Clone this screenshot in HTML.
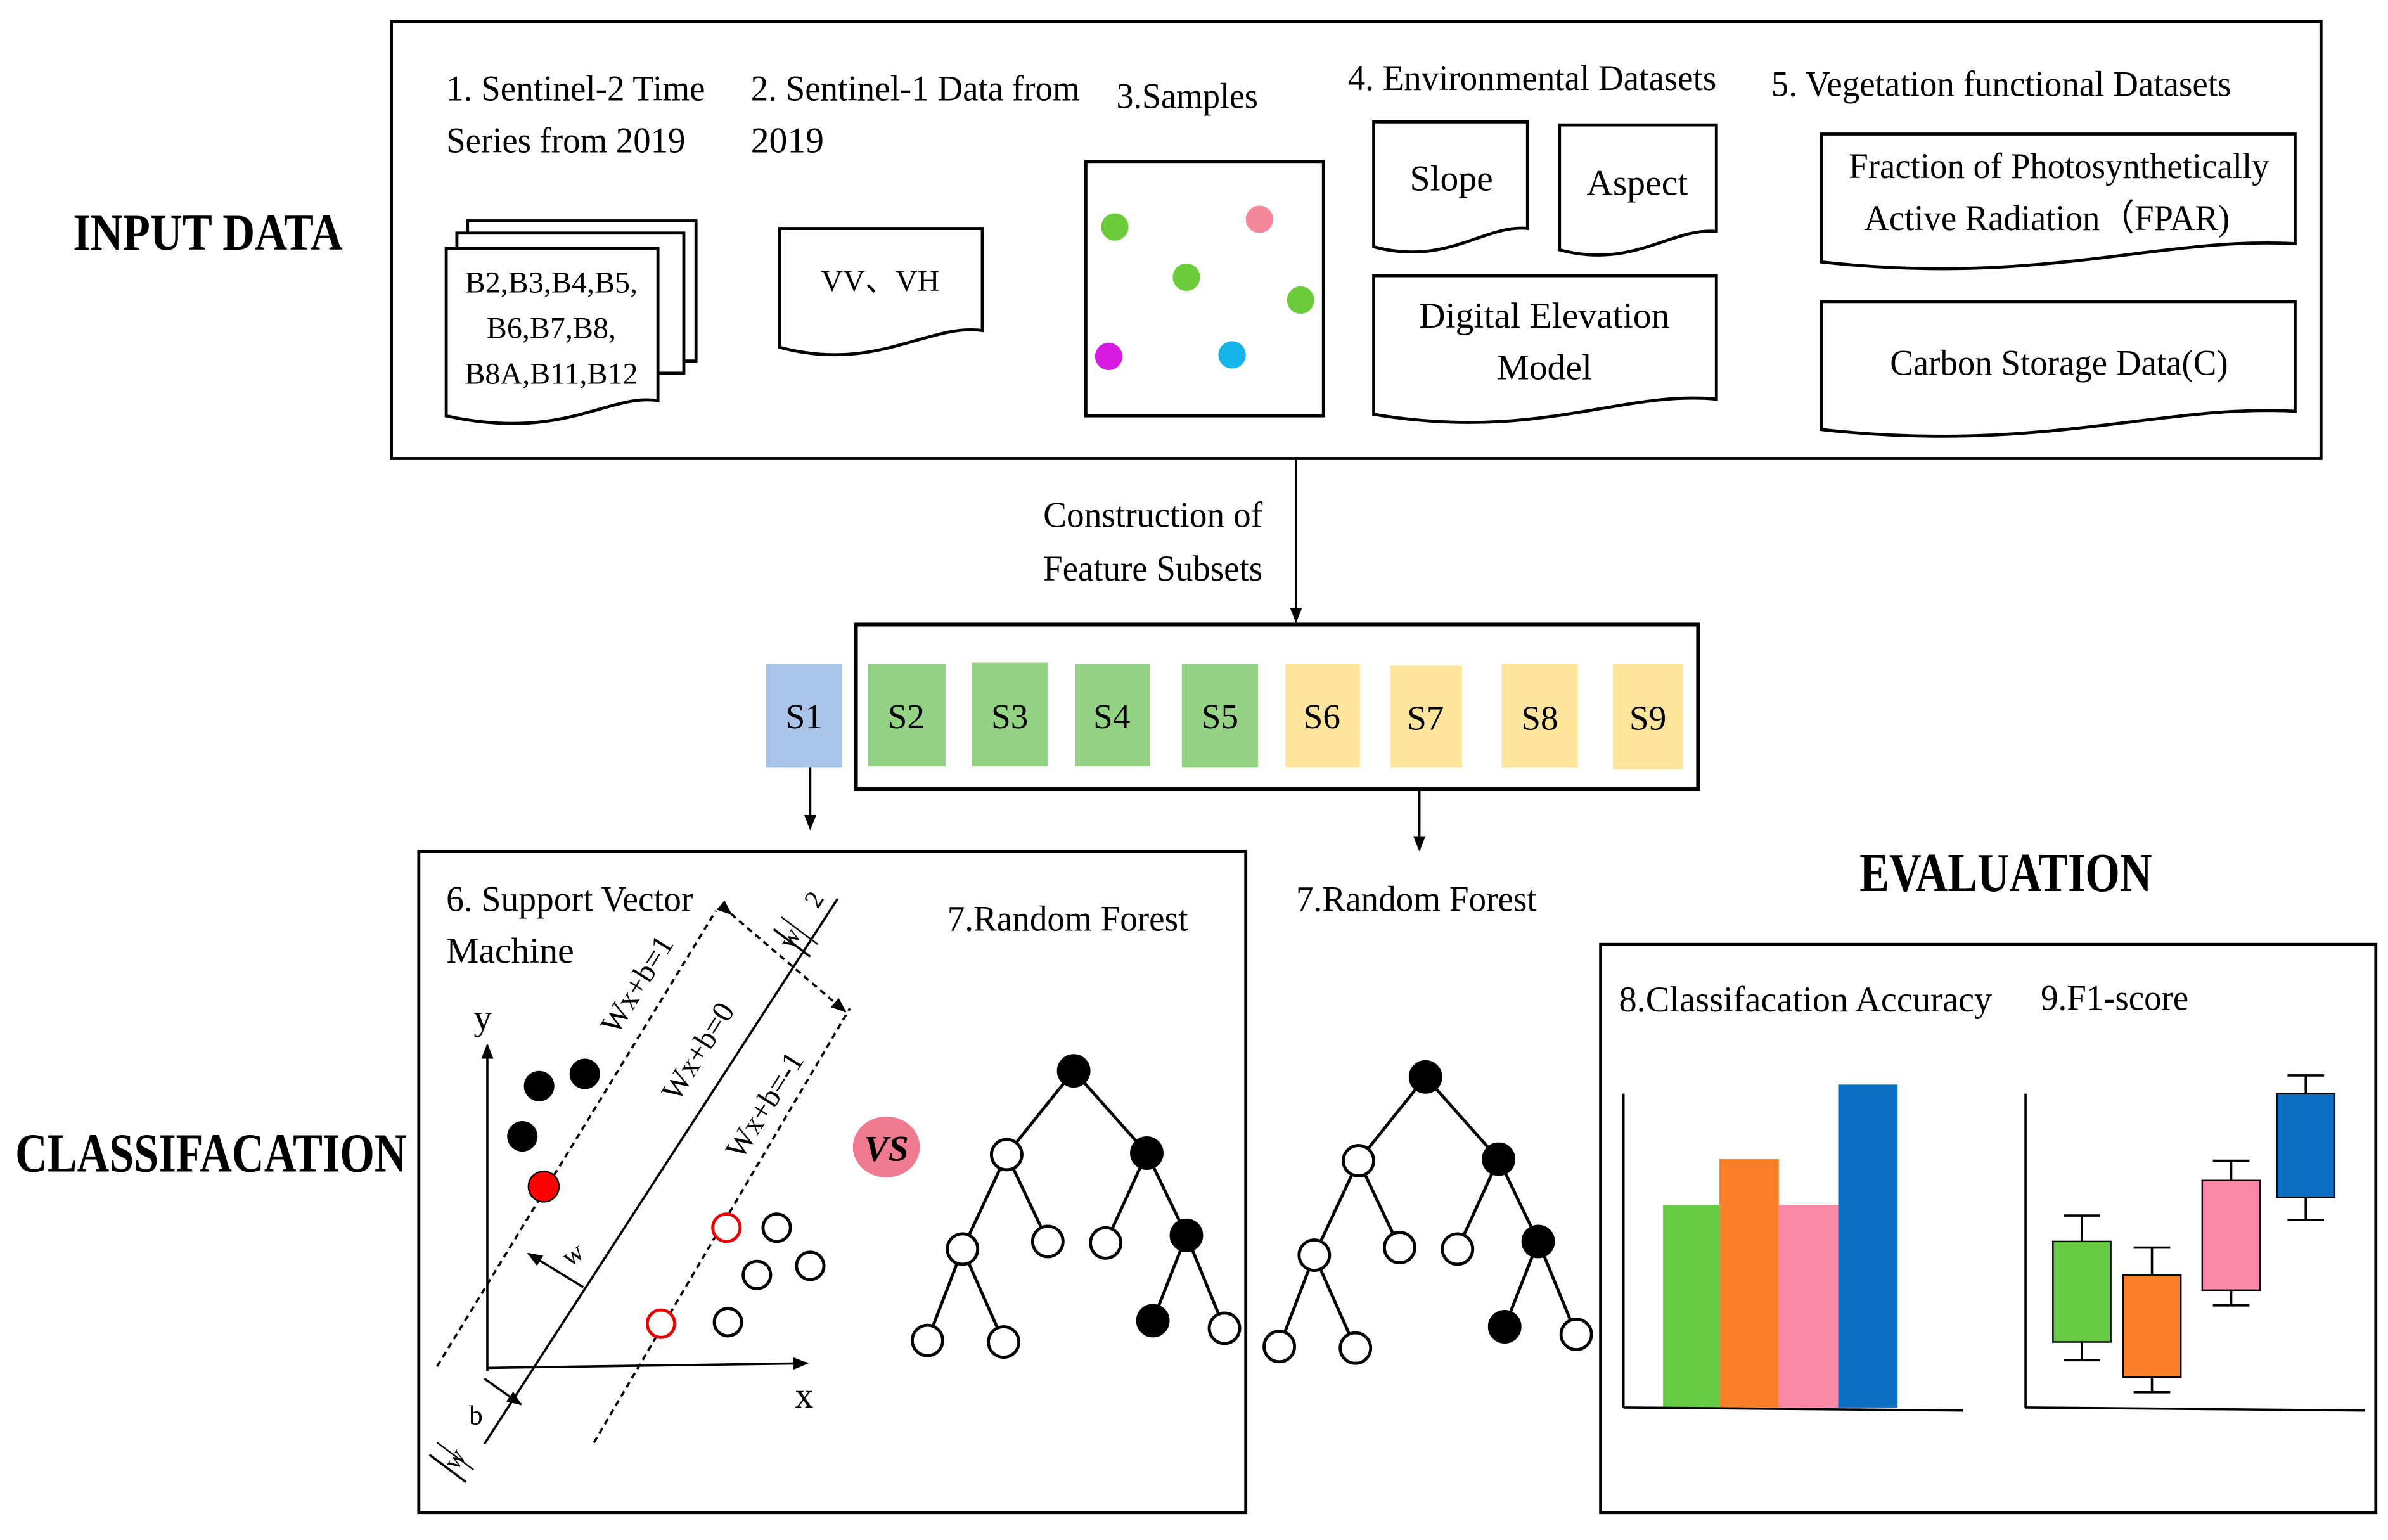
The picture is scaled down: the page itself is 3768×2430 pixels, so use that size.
<!DOCTYPE html>
<html><head><meta charset="utf-8"><style>
html,body{margin:0;padding:0;background:#fff;}
svg{display:block;}
text{font-family:"Liberation Serif",serif;fill:#000;}
</style></head><body>
<svg width="3768" height="2430" viewBox="0 0 1568 1011" preserveAspectRatio="none" xmlns="http://www.w3.org/2000/svg">
<defs>
<marker id="ah" markerWidth="10" markerHeight="10" refX="9" refY="5" orient="auto" markerUnits="userSpaceOnUse"><path d="M0,1 L10,5 L0,9 Z" fill="#000"/></marker>
</defs>
<rect width="1568" height="1011" fill="#fff"/>
<!-- top box -->
<rect x="257" y="14" width="1267" height="287" fill="none" stroke="#000" stroke-width="2"/>
<text x="48" y="164" font-size="34" font-weight="bold" textLength="177" lengthAdjust="spacingAndGlyphs">INPUT DATA</text>

<text x="293" y="66" font-size="24" textLength="170" lengthAdjust="spacingAndGlyphs">1. Sentinel-2 Time</text>
<text x="293" y="100" font-size="24" textLength="157" lengthAdjust="spacingAndGlyphs">Series from 2019</text>
<g fill="#fff" stroke="#000" stroke-width="2">
<rect x="307" y="145" width="150" height="92"/>
<rect x="300" y="153" width="149" height="92"/>
<path d="M293 163 H432 V263 C400 258 370 290 293 273 Z"/>
</g>
<g font-size="20" text-anchor="middle">
<text x="362" y="192">B2,B3,B4,B5,</text>
<text x="362" y="222">B6,B7,B8,</text>
<text x="362" y="252">B8A,B11,B12</text>
</g>

<text x="493" y="66" font-size="24" textLength="216" lengthAdjust="spacingAndGlyphs">2. Sentinel-1 Data from</text>
<text x="493" y="100" font-size="24">2019</text>
<path d="M512 150 H645 V217 C610 212 575 245 512 228 Z" fill="#fff" stroke="#000" stroke-width="2"/>
<text x="578" y="191" font-size="20" text-anchor="middle">VV、VH</text>

<text x="733" y="71" font-size="24" textLength="93" lengthAdjust="spacingAndGlyphs">3.Samples</text>
<rect x="713" y="106" width="156" height="167" fill="#fff" stroke="#000" stroke-width="2"/>
<circle cx="732" cy="149" r="9" fill="#6ccb3a"/>
<circle cx="827" cy="144" r="9" fill="#f4879a"/>
<circle cx="779" cy="182" r="9" fill="#6ccb3a"/>
<circle cx="854" cy="197" r="9" fill="#6ccb3a"/>
<circle cx="728" cy="234" r="9" fill="#d81be0"/>
<circle cx="809" cy="233" r="9" fill="#14b4ea"/>

<text x="885" y="59" font-size="24" textLength="242" lengthAdjust="spacingAndGlyphs">4. Environmental Datasets</text>
<g fill="#fff" stroke="#000" stroke-width="2">
<path d="M902 80 H1003 V150 C975 147 950 175 902 162 Z"/>
<path d="M1024 82 H1127 V152 C1098 149 1072 177 1024 164 Z"/>
<path d="M902 181 H1127 V262 C1065 256 1010 290 902 272 Z"/>
<path d="M1196 88 H1507 V160 C1420 155 1340 188 1196 172 Z"/>
<path d="M1196 198 H1507 V270 C1420 265 1340 298 1196 282 Z"/>
</g>
<g font-size="24" text-anchor="middle">
<text x="953" y="125">Slope</text>
<text x="1075" y="128">Aspect</text>
<text x="1014" y="215">Digital Elevation</text>
<text x="1014" y="249">Model</text>
<text x="1352" y="117" textLength="276" lengthAdjust="spacingAndGlyphs">Fraction of Photosynthetically</text>
<text x="1344" y="151" textLength="240" lengthAdjust="spacingAndGlyphs">Active Radiation（FPAR)</text>
<text x="1352" y="246" textLength="222" lengthAdjust="spacingAndGlyphs">Carbon Storage Data(C)</text>
</g>
<text x="1163" y="63" font-size="24" textLength="302" lengthAdjust="spacingAndGlyphs">5. Vegetation functional Datasets</text>

<!-- arrow construction -->
<line x1="851" y1="301" x2="851" y2="408" stroke="#000" stroke-width="1.5" marker-end="url(#ah)"/>
<text x="757" y="346" font-size="24" text-anchor="middle" textLength="144" lengthAdjust="spacingAndGlyphs">Construction of</text>
<text x="757" y="381" font-size="24" text-anchor="middle" textLength="144" lengthAdjust="spacingAndGlyphs">Feature Subsets</text>

<rect x="562" y="410" width="553" height="108" fill="none" stroke="#000" stroke-width="2.5"/>
<rect x="503" y="436" width="50" height="68" fill="#a9c4e8"/>
<rect x="570" y="436" width="51" height="67" fill="#95d384"/>
<rect x="638" y="435" width="50" height="68" fill="#95d384"/>
<rect x="706" y="436" width="49" height="67" fill="#95d384"/>
<rect x="776" y="436" width="50" height="68" fill="#95d384"/>
<rect x="844" y="436" width="49" height="68" fill="#fee59b"/>
<rect x="913" y="437" width="47" height="67" fill="#fee59b"/>
<rect x="986" y="436" width="50" height="68" fill="#fee59b"/>
<rect x="1059" y="436" width="46" height="69" fill="#fee59b"/>
<g font-size="23" text-anchor="middle">
<text x="528" y="478">S1</text><text x="595" y="478">S2</text><text x="663" y="478">S3</text>
<text x="730" y="478">S4</text><text x="801" y="478">S5</text><text x="868" y="478">S6</text>
<text x="936" y="479">S7</text><text x="1011" y="479">S8</text><text x="1082" y="479">S9</text>
</g>
<line x1="532" y1="504" x2="532" y2="544" stroke="#000" stroke-width="1.5" marker-end="url(#ah)"/>
<line x1="932" y1="518" x2="932" y2="558" stroke="#000" stroke-width="1.5" marker-end="url(#ah)"/>

<text x="10" y="769" font-size="36" font-weight="bold" textLength="257" lengthAdjust="spacingAndGlyphs">CLASSIFACATION</text>
<rect x="275" y="559" width="543" height="434" fill="none" stroke="#000" stroke-width="2"/>
<text x="293" y="598" font-size="24" textLength="162" lengthAdjust="spacingAndGlyphs">6. Support Vector</text>
<text x="293" y="632" font-size="24">Machine</text>
<text x="622" y="611" font-size="24" textLength="158" lengthAdjust="spacingAndGlyphs">7.Random Forest</text>
<text x="851" y="598" font-size="24" textLength="158" lengthAdjust="spacingAndGlyphs">7.Random Forest</text>

<!-- SVM -->
<g stroke="#000" stroke-width="1.5" fill="none">
<line x1="320" y1="900" x2="320" y2="686" marker-end="url(#ah)"/>
<line x1="320" y1="898" x2="530" y2="895" marker-end="url(#ah)"/>
<line x1="287" y1="897" x2="470" y2="598" stroke-dasharray="4,3"/>
<line x1="318" y1="948" x2="550" y2="590"/>
<line x1="390" y1="947" x2="558" y2="662" stroke-dasharray="4,3"/>
<line x1="480" y1="600" x2="555" y2="664" stroke-dasharray="4,3" marker-end="url(#ah)" marker-start="url(#ah)"/>
<line x1="383" y1="845" x2="347" y2="823" marker-end="url(#ah)"/>
<line x1="318" y1="905" x2="342" y2="922" marker-end="url(#ah)"/>
<line x1="508" y1="610" x2="532" y2="628"/>
<line x1="513" y1="602" x2="537" y2="620" stroke-width="1"/>
<line x1="282" y1="955" x2="306" y2="973"/>
<line x1="287" y1="947" x2="311" y2="965" stroke-width="1"/>
</g>
<text x="317" y="676" font-size="24" text-anchor="middle">y</text>
<text x="528" y="924" font-size="24" text-anchor="middle">x</text>
<text x="374" y="832" font-size="18" transform="rotate(-35 374 832)">w</text>
<text x="308" y="935" font-size="18">b</text>
<text x="0" y="0" font-size="20" transform="translate(405,680) rotate(-58)">Wx+b=1</text>
<text x="0" y="0" font-size="20" transform="translate(445,724) rotate(-58)">Wx+b=0</text>
<text x="0" y="0" font-size="20" transform="translate(487,762) rotate(-58)">Wx+b=-1</text>
<text x="0" y="0" font-size="17" transform="translate(537,597) rotate(-58)">2</text>
<text x="0" y="0" font-size="17" transform="translate(520,624) rotate(-58)">w</text>
<text x="0" y="0" font-size="17" transform="translate(300,966) rotate(-58)">w</text>
<circle cx="354" cy="713" r="10" fill="#000"/>
<circle cx="384" cy="705" r="10" fill="#000"/>
<circle cx="343" cy="746" r="10" fill="#000"/>
<circle cx="357" cy="779" r="10" fill="#f00" stroke="#000" stroke-width="1"/>
<g fill="#fff" stroke-width="2">
<circle cx="477" cy="806" r="9" stroke="#e00"/>
<circle cx="434" cy="869" r="9" stroke="#e00"/>
<circle cx="510" cy="806" r="9" stroke="#000"/>
<circle cx="532" cy="831" r="9" stroke="#000"/>
<circle cx="497" cy="837" r="9" stroke="#000"/>
<circle cx="478" cy="868" r="9" stroke="#000"/>
</g>
<ellipse cx="582" cy="753" rx="22" ry="20" fill="#f07a8f"/>
<text x="582" y="762" font-size="24" font-weight="bold" font-style="italic" text-anchor="middle">VS</text>

<!-- trees -->
<g id="tree" stroke="#000" stroke-width="2">
<line x1="705" y1="703" x2="661" y2="758"/><line x1="705" y1="703" x2="753" y2="757"/>
<line x1="661" y1="758" x2="632" y2="820"/><line x1="661" y1="758" x2="688" y2="815"/>
<line x1="753" y1="757" x2="726" y2="816"/><line x1="753" y1="757" x2="779" y2="811"/>
<line x1="632" y1="820" x2="609" y2="880"/><line x1="632" y1="820" x2="659" y2="881"/>
<line x1="779" y1="811" x2="757" y2="867"/><line x1="779" y1="811" x2="804" y2="872"/>
<circle cx="705" cy="703" r="10" fill="#000"/>
<circle cx="661" cy="758" r="10" fill="#fff"/>
<circle cx="753" cy="757" r="10" fill="#000"/>
<circle cx="632" cy="820" r="10" fill="#fff"/>
<circle cx="688" cy="815" r="10" fill="#fff"/>
<circle cx="726" cy="816" r="10" fill="#fff"/>
<circle cx="779" cy="811" r="10" fill="#000"/>
<circle cx="609" cy="880" r="10" fill="#fff"/>
<circle cx="659" cy="881" r="10" fill="#fff"/>
<circle cx="757" cy="867" r="10" fill="#000"/>
<circle cx="804" cy="872" r="10" fill="#fff"/>
</g>
<use href="#tree" transform="translate(231,4)"/>

<!-- evaluation -->
<text x="1221" y="585" font-size="36" font-weight="bold" textLength="192" lengthAdjust="spacingAndGlyphs">EVALUATION</text>
<rect x="1051" y="620" width="509" height="373" fill="none" stroke="#000" stroke-width="2"/>
<text x="1063" y="664" font-size="24" textLength="245" lengthAdjust="spacingAndGlyphs">8.Classifacation  Accuracy</text>
<text x="1340" y="663" font-size="24" textLength="97" lengthAdjust="spacingAndGlyphs">9.F1-score</text>
<rect x="1092" y="791" width="37" height="133" fill="#66cc44"/>
<rect x="1129" y="761" width="39" height="163" fill="#fd7f2a"/>
<rect x="1168" y="791" width="39" height="133" fill="#fb88a8"/>
<rect x="1207" y="712" width="39" height="212" fill="#0a6fc2"/>
<g stroke="#000" stroke-width="1.5" fill="none">
<line x1="1066" y1="718" x2="1066" y2="924"/><line x1="1066" y1="924" x2="1289" y2="926"/>
<line x1="1330" y1="718" x2="1330" y2="924"/><line x1="1330" y1="924" x2="1553" y2="926"/>
<line x1="1367" y1="798" x2="1367" y2="893"/><line x1="1355" y1="798" x2="1379" y2="798"/><line x1="1355" y1="893" x2="1379" y2="893"/>
<line x1="1413" y1="819" x2="1413" y2="914"/><line x1="1401" y1="819" x2="1425" y2="819"/><line x1="1401" y1="914" x2="1425" y2="914"/>
<line x1="1465" y1="762" x2="1465" y2="857"/><line x1="1453" y1="762" x2="1477" y2="762"/><line x1="1453" y1="857" x2="1477" y2="857"/>
<line x1="1514" y1="706" x2="1514" y2="801"/><line x1="1502" y1="706" x2="1526" y2="706"/><line x1="1502" y1="801" x2="1526" y2="801"/>
</g>
<g stroke="#000" stroke-width="1">
<rect x="1348" y="815" width="38" height="66" fill="#66cc44"/>
<rect x="1394" y="837" width="38" height="67" fill="#fd7f2a"/>
<rect x="1446" y="775" width="38" height="72" fill="#fb88a8"/>
<rect x="1495" y="718" width="38" height="68" fill="#0a6fc2"/>
</g>
</svg>
</body></html>
